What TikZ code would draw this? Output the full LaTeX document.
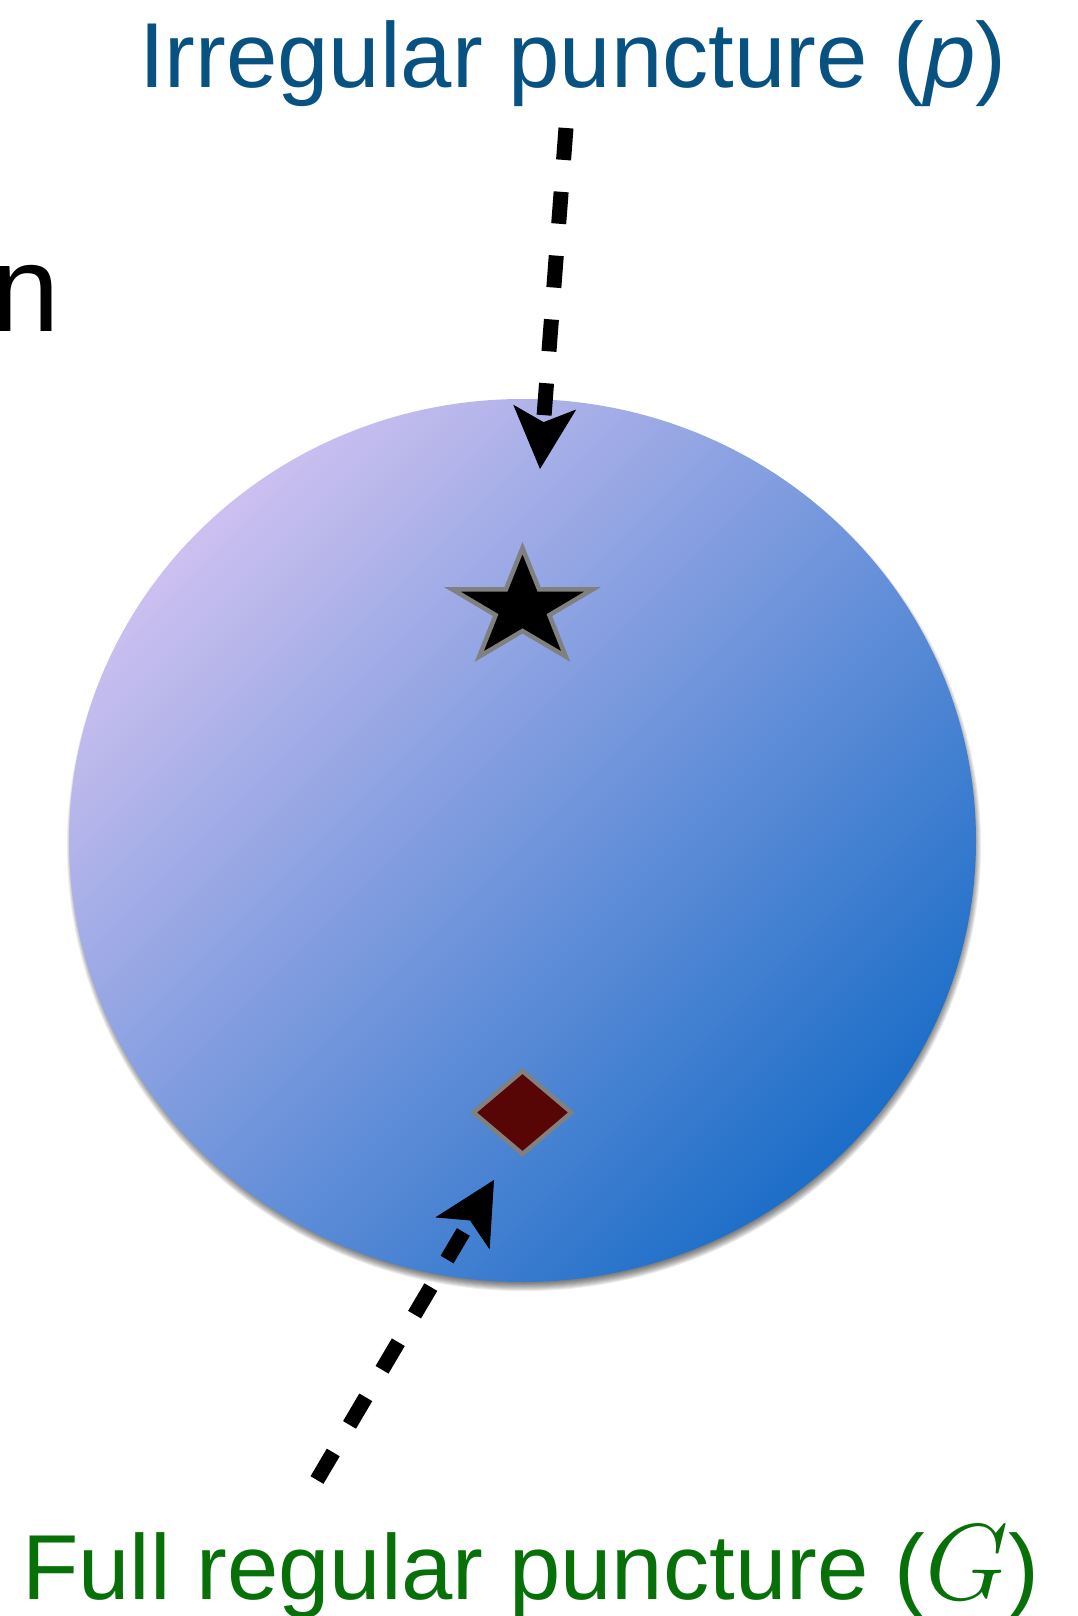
\RequirePackage{fix-cm}
\documentclass[tikz,border=0pt]{standalone}
\usepackage{fontspec}
\setmainfont{Liberation Sans}
\usetikzlibrary{arrows.meta}
\definecolor{topblue}{RGB}{8,82,130}
\definecolor{fullgreen}{RGB}{8,112,8}
\definecolor{lav}{RGB}{204,192,240}
\definecolor{deepblue}{RGB}{28,110,200}
\definecolor{midblue}{RGB}{115,150,220}
\definecolor{rimgray}{RGB}{128,128,128}
\definecolor{darkmaroon}{RGB}{88,5,5}
\begin{document}
\begin{tikzpicture}[x=1pt,y=1pt,
  dasharrow/.style={line width=15pt, dash pattern=on 32pt off 32pt,
    -{Stealth[length=62pt,width=63pt,inset=15pt,line width=1pt]}},
  labeltext/.style={inner sep=0pt, anchor=base west, font=\fontsize{92.3}{100}\selectfont},
  marker/.style={draw=rimgray, line width=4.5pt, line join=miter}]
\useasboundingbox (0,0) rectangle (1077,-1616);
% soft shadow of the sphere
\foreach \k in {0,...,9}
  \fill[black, opacity=0.065] (524,-846) ellipse ({449+\k*0.9} and {437+\k*0.9});
% sphere
\shade[top color=lav, bottom color=deepblue, middle color=midblue, shading angle=45]
  (522.5,-840.5) ellipse (453.5 and 441.5);
% star (irregular puncture)
\coordinate (starc) at (522.5,-608);
\begin{scope}[shift={(starc)}, xscale=1.227]
  \filldraw[marker, fill=black] (90:60) -- (126:23) -- (162:60) -- (198:23) -- (234:60)
    -- (270:23) -- (306:60) -- (342:23) -- (18:60) -- (54:23) -- cycle;
\end{scope}
% diamond (full regular puncture)
\coordinate (diac) at (522.5,-1112.5);
\filldraw[marker, fill=darkmaroon] ([yshift=41.5pt]diac) -- ([xshift=-49pt]diac)
  -- ([yshift=-41.5pt]diac) -- ([xshift=49pt]diac) -- cycle;
% labels
\node[labeltext, text=topblue] (irr) at (139,-87.3) {Irregular puncture (\textit{p})};
\node[labeltext, text=fullgreen] (full) at (22,-1599) {Full regular puncture ({\fontsize{108}{108}\selectfont$G$})};
\node[inner sep=0pt, anchor=base west, font=\fontsize{123}{130}\selectfont] (ncut) at (-8.5,-331.7) {n};
% arrows
\coordinate (ptop) at (566,-128);
\coordinate (ptip) at (540,-469);
\coordinate (gbot) at (317,-1480);
\coordinate (gtip) at (494,-1180);
\draw[dasharrow] (ptop) -- (ptip);
\draw[dasharrow] (gbot) -- (gtip);
\end{tikzpicture}
\end{document}
